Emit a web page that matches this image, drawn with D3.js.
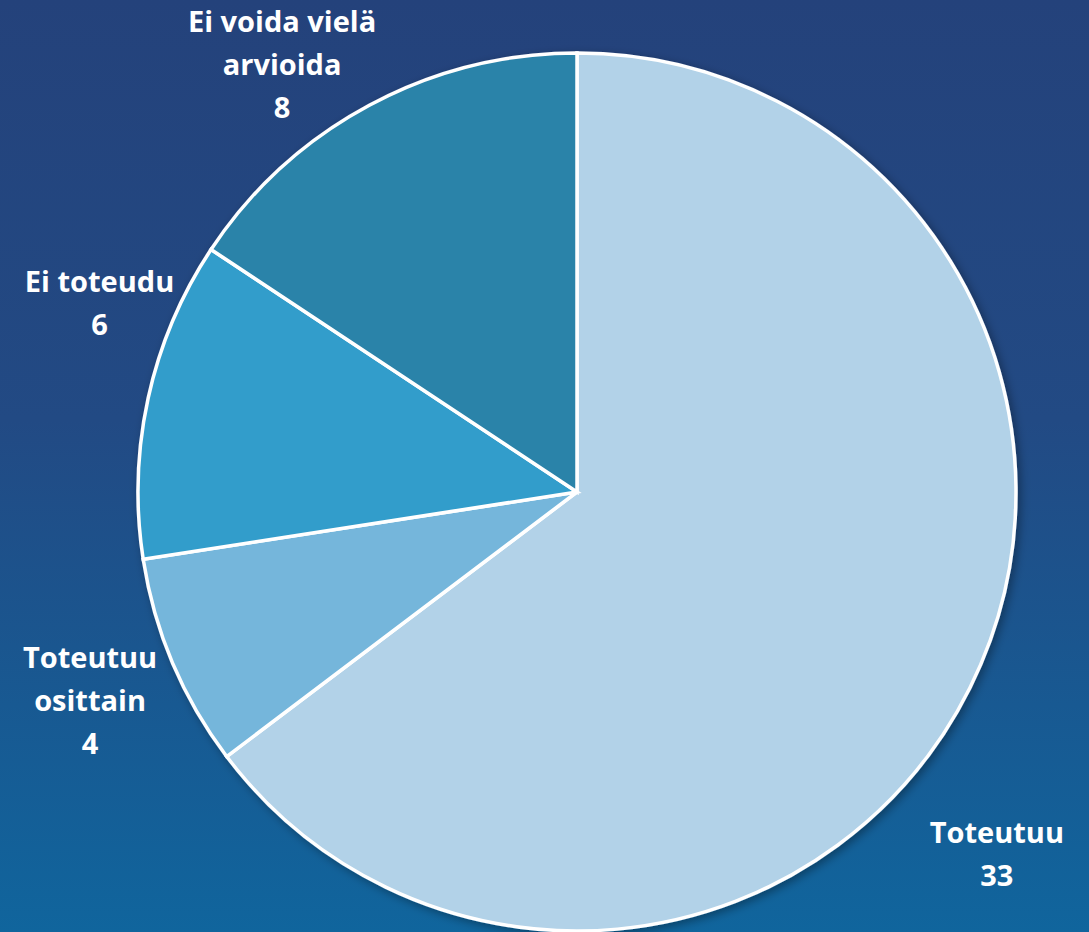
<!DOCTYPE html>
<html>
<head>
<meta charset="utf-8">
<script src="https://cdn.jsdelivr.net/npm/d3@7"></script>
<style>
  html, body { margin: 0; padding: 0; overflow: hidden; }
  text { font-family: "Open Sans", Lato, sans-serif; font-weight: bold; fill: #fff; }
</style>
</head>
<body>
<script>
/* Define data. */
const categories = ["Toteutuu", "Toteutuu osittain", "Ei toteudu", "Ei voida vielä arvioida"]
const values = [33, 4, 6, 8]
const labelLines = [["Toteutuu"], ["Toteutuu", "osittain"], ["Ei toteudu"], ["Ei voida vielä", "arvioida"]]
const colors = ["#b2d2e8", "#75b6db", "#339dcb", "#2b83a9"]

/* Define svg-size. */
const width = 1089
const height = 932
const cx = 577
const cy = 492
const radius = 439

/* Label nudges from the outer centroid to the first baseline (layout only). */
const nudges = [[-36, 124], [-18, -22], [20, -91], [-54, -11]]

/* Create svg-element. */
const svg = d3.select("body")
  .append("svg")
  .attr("width", width)
  .attr("height", height)

const defs = svg.append("defs")

const grad = defs.append("linearGradient")
  .attr("id", "bg")
  .attr("x1", 0).attr("y1", 0)
  .attr("x2", 0).attr("y2", 1)
grad.append("stop").attr("offset", "0%").attr("stop-color", "#24427b")
grad.append("stop").attr("offset", "45%").attr("stop-color", "#224a84")
grad.append("stop").attr("offset", "100%").attr("stop-color", "#10659d")

const shadow = defs.append("filter")
  .attr("id", "shadow")
  .attr("x", "-10%").attr("y", "-10%")
  .attr("width", "120%").attr("height", "120%")
shadow.append("feDropShadow")
  .attr("dx", 3).attr("dy", 3)
  .attr("stdDeviation", 5)
  .attr("flood-color", "#000")
  .attr("flood-opacity", 0.35)

svg.append("rect")
  .attr("width", width)
  .attr("height", height)
  .attr("fill", "url(#bg)")

/* Pie layout. */
const pie = d3.pie()
  .sort(null)
  .value(d => d)

const arc = d3.arc()
  .innerRadius(0)
  .outerRadius(radius)

const outerArc = d3.arc()
  .innerRadius(radius * 1.16)
  .outerRadius(radius * 1.16)

const g = svg.append("g")
  .attr("transform", `translate(${cx},${cy})`)

g.append("g")
  .attr("filter", "url(#shadow)")
  .selectAll("path")
  .data(pie(values))
  .enter()
  .append("path")
  .attr("d", arc)
  .attr("fill", (d, i) => colors[i])
  .attr("stroke", "#fff")
  .attr("stroke-width", 3.5)
  .attr("stroke-linejoin", "miter")

/* Labels. */
const lineH = 43
const labels = g.selectAll("text.label")
  .data(pie(values))
  .enter()
  .append("text")
  .attr("class", "label")
  .attr("text-anchor", "middle")
  .style("font-size", "29px")
  .attr("transform", (d, i) => {
    const [x, y] = outerArc.centroid(d)
    return `translate(${x + nudges[i][0]},${y + nudges[i][1]})`
  })

labels.each(function (d, i) {
  const t = d3.select(this)
  const lines = labelLines[i].concat([String(values[i])])
  lines.forEach((l, j) => {
    t.append("tspan")
      .attr("x", 0)
      .attr("y", j * lineH)
      .text(l)
  })
})
</script>
</body>
</html>
